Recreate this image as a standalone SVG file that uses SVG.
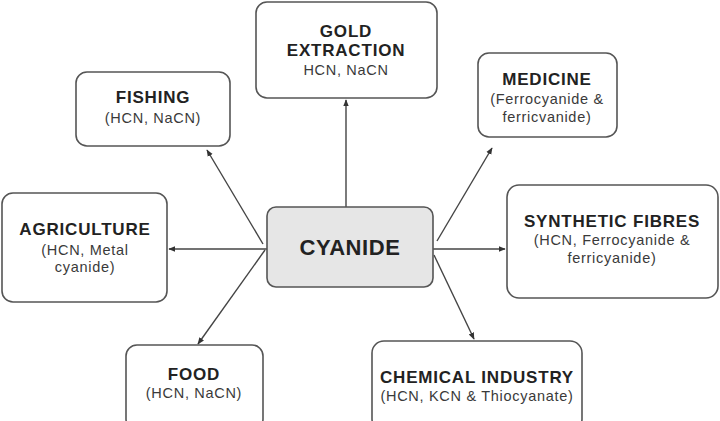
<svg xmlns="http://www.w3.org/2000/svg" width="720" height="421" viewBox="0 0 720 421">
<style>
.box{fill:#fff;stroke:#555;stroke-width:1.6}
.center{fill:#e6e6e6;stroke:#555;stroke-width:1.6}
.t{font-family:"Liberation Sans",Arial,sans-serif;font-weight:bold;font-size:17px;letter-spacing:0.8px;fill:#222;text-anchor:middle}
.s{font-family:"Liberation Sans",Arial,sans-serif;font-size:14.5px;letter-spacing:0.7px;fill:#3a3a3a;text-anchor:middle}
.c{font-family:"Liberation Sans",Arial,sans-serif;font-weight:bold;font-size:22px;letter-spacing:0.6px;fill:#222;text-anchor:middle}
.ln{stroke:#444;stroke-width:1.4;fill:none;marker-end:url(#ah)}
</style>
<defs>
<marker id="ah" viewBox="0 0 10 10" refX="9" refY="5" markerWidth="7" markerHeight="7" orient="auto" markerUnits="userSpaceOnUse">
<path d="M0,1 L10,5 L0,9 Z" fill="#333"/>
</marker>
</defs>
<rect width="720" height="421" fill="#fff"/>
<g id="connectors">
<line class="ln" x1="346" y1="207" x2="346" y2="100"/>
<line class="ln" x1="263" y1="244" x2="207" y2="150"/>
<line class="ln" x1="437" y1="241" x2="492" y2="148"/>
<line class="ln" x1="267" y1="249" x2="169" y2="249"/>
<line class="ln" x1="433" y1="249" x2="505" y2="249"/>
<line class="ln" x1="265" y1="250" x2="198" y2="344"/>
<line class="ln" x1="434" y1="255" x2="474" y2="339"/>
</g>
<g id="cyanide">
<rect class="center" x="267" y="207" width="166" height="80" rx="9"/>
<text class="c" x="350" y="255">CYANIDE</text>
</g>
<g id="gold">
<rect class="box" x="256" y="2" width="181" height="96" rx="11"/>
<text class="t" x="346" y="37">GOLD</text>
<text class="t" x="346" y="56">EXTRACTION</text>
<text class="s" x="346" y="75">HCN, NaCN</text>
</g>
<g id="fishing">
<rect class="box" x="76" y="72" width="154" height="74" rx="11"/>
<text class="t" x="153" y="103">FISHING</text>
<text class="s" x="153" y="123">(HCN, NaCN)</text>
</g>
<g id="medicine">
<rect class="box" x="478" y="53" width="139" height="84" rx="11"/>
<text class="t" x="547" y="85">MEDICINE</text>
<text class="s" x="547" y="104">(Ferrocyanide &amp;</text>
<text class="s" x="547" y="122">ferricvanide)</text>
</g>
<g id="agriculture">
<rect class="box" x="2" y="193" width="165" height="109" rx="11"/>
<text class="t" x="85" y="235">AGRICULTURE</text>
<text class="s" x="85" y="255">(HCN, Metal</text>
<text class="s" x="85" y="272">cyanide)</text>
</g>
<g id="synthetic">
<rect class="box" x="507" y="185" width="211" height="113" rx="12"/>
<text class="t" x="612" y="227">SYNTHETIC FIBRES</text>
<text class="s" x="612" y="245">(HCN, Ferrocyanide &amp;</text>
<text class="s" x="612" y="263">ferricyanide)</text>
</g>
<g id="food">
<rect class="box" x="126" y="345" width="137" height="85" rx="11"/>
<text class="t" x="194" y="380">FOOD</text>
<text class="s" x="194" y="398">(HCN, NaCN)</text>
</g>
<g id="chemical">
<rect class="box" x="372" y="341" width="210" height="90" rx="12"/>
<text class="t" x="477" y="383">CHEMICAL INDUSTRY</text>
<text class="s" x="477" y="401">(HCN, KCN &amp; Thiocyanate)</text>
</g>
</svg>
